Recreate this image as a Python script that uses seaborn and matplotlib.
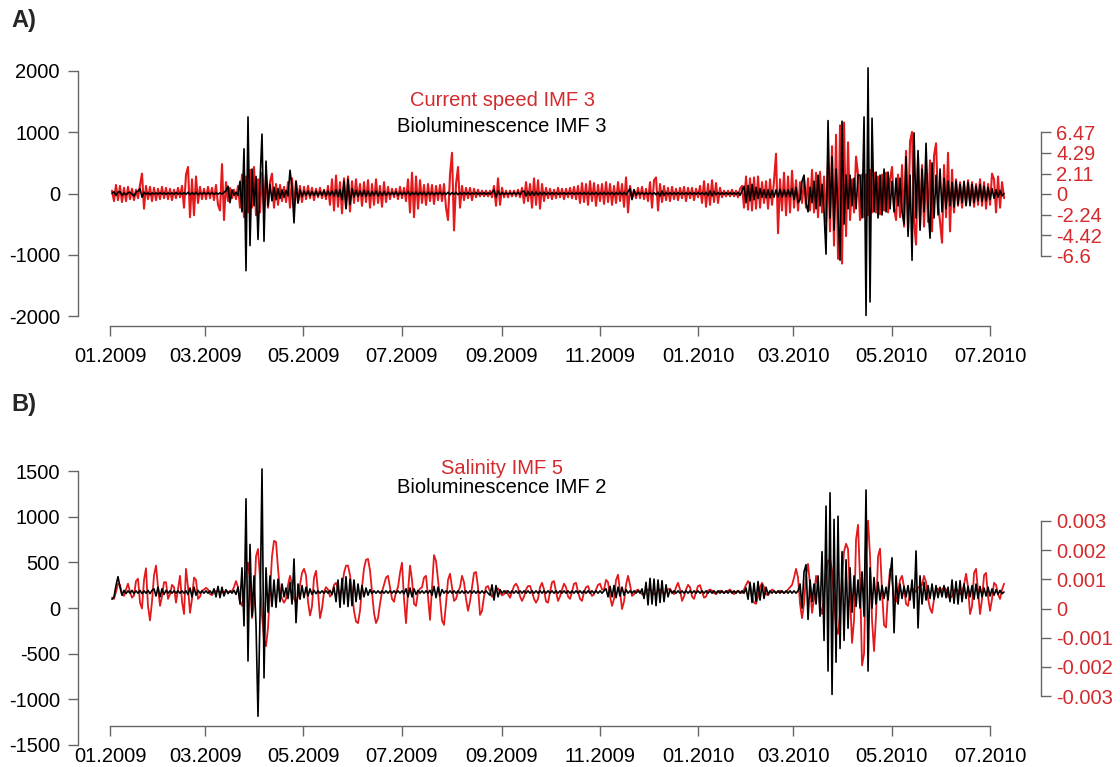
import numpy as np
import pandas as pd
import matplotlib
matplotlib.use("Agg")
import matplotlib.pyplot as plt
import matplotlib.dates as mdates
import seaborn as sns

# ------------------------------------------------------------------ data
# regular sampling of the IMF series (about every 1.24 days)
sample_start = "2009-01-02 05:47"
sample_step = "1787min"

# Panel A – bioluminescence IMF 3 (left axis)
biolum_imf3 = [
    0, 30, -30, 20, 30, -30, 10, -20, 10, 20, -10, -40, 20, 40, 80, -60, 20, -10, 10, -20,
    10, -10, 10, -10, 15, -10, 10, -15, 10, -10, 10, -10, 15, -10, 10, -10, 15, -15, 20, -20,
    15, -15, 20, -20, 10, -10, 15, -10, 10, -10, 15, -15, 10, -10, 10, -10, 20, 40, 120, -150,
    60, -30, 20, -30, 200, -300, 730, -1260, 1250, -850, 400, -200, 280, -750, 200, 970, -780, 530, -200, 150,
    -120, 100, -100, 80, -80, 60, -60, 50, -40, 380, 100, -480, 200, -150, 60, -50, 40, -30, 40, -40,
    30, -30, 40, -40, 30, -30, 50, -40, 40, -30, 40, -40, 60, -50, 60, -100, 200, -250, 230, -180,
    80, -60, 50, -50, 40, -40, 50, -50, 40, -40, 30, -30, 40, -40, 30, -30, 30, -30, 20, -20,
    20, -20, 30, -30, 20, -20, 20, -20, 30, -30, 20, -20, 25, -25, 20, -20, 25, -25, 20, -20,
    20, -20, 15, -15, 20, -20, 15, -15, 20, -20, 15, -15, 20, -20, 15, -15, 15, -15, 15, -15,
    10, -10, 15, -15, 10, -10, 15, -15, 10, -10, 20, 60, -60, 40, -20, 15, -15, 10, -10, 10,
    -10, 15, -15, 20, -20, 30, 40, -40, 30, -30, 30, -30, 25, -25, 20, -20, 20, -20, 15, -15,
    15, -15, 15, -15, 10, -10, 15, -15, 10, -10, 15, -15, 10, -10, 15, -15, 15, -15, 20, -20,
    15, -15, 20, -20, 15, -15, 20, -20, 15, -15, 20, -20, 15, -15, 20, -20, 20, -20, 30, 80,
    -100, 60, -30, 20, -15, 15, -15, 15, -15, 15, -15, 15, -20, 20, -40, 40, -30, 20, -15, 15,
    -15, 15, -15, 15, -15, 15, -15, 15, -15, 15, -15, 15, -15, 15, -15, 15, -20, 20, -30, 40,
    -40, 30, -20, 15, -15, 15, -15, 15, -15, 15, -15, 15, -20, 20, -30, 40, 120, -150, 130, -120,
    150, -100, 100, -80, 80, -60, 60, -70, 60, -70, 50, -60, 60, -60, 70, -60, 60, -50, 60, -50,
    80, -100, 100, -150, -100, 200, 300, -150, -300, 100, -150, 200, -250, 300, -200, 150, -300, -990, 1190, -400,
    600, -600, 400, -300, -1090, 1180, -500, 300, -250, 300, -200, 250, -250, 300, 300, -400, 1250, -1990, 2050, -1770,
    1230, -300, 350, -400, 300, -350, 400, -300, 350, -250, 200, -300, 250, -200, 250, -300, -500, 600, -700, 300,
    -1090, 990, -400, 700, -600, 400, -300, 820, -200, -730, 500, -400, 300, -350, 400, -300, 250, -250, 200, -200,
    180, -220, 200, -180, 150, -150, 200, -200, 180, -200, 150, -150, 120, -120, 150, -130, 120, -120, 100, -100,
    80, -80, 60, -60, 50, -40, 0,
]

# Panel A – current speed IMF 3 (right axis)
current_imf3 = [
    0.3, -0.8, 0.9, -0.7, 0.8, -0.9, 0.6, -0.8, 0.7, -0.6, 0.5, -0.7, 0.4, -0.5, 0.9, 2.1, -1.6, 0.8, -0.6, 0.7,
    -0.8, 0.6, -0.7, 0.5, -0.6, 0.7, -0.5, 0.6, -0.6, 0.5, -0.7, 0.4, -0.5, 0.6, -0.4, 0.8, -1.5, 2.0, 2.8, -2.5,
    1.5, -2.3, 1.8, -1.0, 0.7, -0.6, 0.5, -0.6, 0.7, -0.5, 0.6, -0.7, 0.9, -1.2, -1.8, 3.1, -2.8, 1.2, -0.8, 0.6,
    -0.5, 0.4, -0.6, 0.8, -1.5, 2.0, -2.5, 1.8, -2.0, 2.5, -1.5, 2.8, -2.3, 1.5, -2.0, 2.2, -1.8, 2.0, -1.5, 1.2,
    2.1, -1.5, 1.0, -1.2, 0.9, -0.8, 0.7, -0.9, 1.2, -1.5, 1.6, -1.4, 1.3, -1.0, 0.8, -0.9, 0.7, -0.6, 0.8, -0.5,
    0.6, -0.7, 0.5, -0.4, 0.6, -0.5, 0.4, -0.6, 0.8, -1.2, 1.5, -1.8, 1.9, -1.4, 1.2, -2.1, 1.6, -1.5, 1.8, -1.9,
    1.3, -1.0, 1.5, -0.8, 1.0, -1.3, 1.2, -0.9, 1.4, -1.5, 1.0, -1.2, 1.5, -1.0, 0.8, -1.4, 1.2, -0.9, 0.7, -0.6,
    0.5, -0.4, 0.5, -0.6, 0.7, -0.5, 0.6, -0.8, 1.5, -2.0, 2.2, -2.5, 1.8, -1.6, 1.4, -1.0, 0.9, -1.2, 1.0, -0.8,
    0.9, -1.1, 0.8, -0.7, 0.9, -0.8, 1.0, -1.5, -2.8, 2.0, 4.3, -3.9, 1.0, 2.8, -1.5, 0.8, -0.7, 0.6, -0.5, 0.6,
    -0.7, 0.5, -0.4, 0.4, -0.3, 0.3, -0.3, 0.3, -0.3, 0.3, -0.4, 0.8, -1.3, 1.6, -1.2, 0.6, -0.4, 0.3, -0.4, 0.3,
    -0.3, 0.3, -0.3, 0.4, -0.4, 0.6, -1.0, 1.2, -0.8, 1.0, -1.5, 1.6, -1.2, 1.4, -1.6, 1.0, -0.8, 0.6, -0.5, 0.5,
    -0.6, 0.4, -0.5, 0.6, -0.4, 0.5, -0.6, 0.5, -0.4, 0.6, -0.5, 0.7, -0.6, 0.8, -1.0, 1.1, -0.9, 1.0, -1.2, 1.3,
    -0.8, 1.1, -1.3, 0.9, -0.8, 1.0, -1.1, 1.2, -0.9, 1.0, -1.2, 0.8, -1.0, 1.2, -0.8, 1.0, -1.4, 1.7, -2.0, 0.8,
    -0.5, 0.4, -0.5, 0.6, -0.5, 0.7, -0.6, 0.5, -0.8, 1.2, -1.5, 1.4, 1.7, -1.8, 1.0, -0.9, 0.8, -0.7, 0.6, -0.8,
    0.7, -0.6, 0.5, -0.7, 0.6, -0.5, 0.7, -0.8, 0.6, -0.5, 0.6, -0.7, 0.5, -0.4, 0.8, -1.0, 1.3, -1.4, 1.0, -1.2,
    1.4, -0.9, 1.1, -1.0, 0.6, -0.4, 0.3, -0.3, 0.3, -0.3, 0.4, -0.3, 0.3, -0.4, 0.5, 0.8, -1.5, 1.8, -1.7, 1.6,
    -1.8, 1.7, -1.6, 1.8, -1.5, 1.2, -1.0, 1.3, -1.6, 1.5, -1.2, 1.4, 4.2, -4.2, 1.5, -1.8, 2.2, -2.3, 1.8, -2.0,
    2.4, -1.5, 1.4, -1.8, 1.2, -1.0, 1.4, -1.5, 1.6, -1.8, 2.5, -2.0, 2.2, -2.5, 2.3, -2.0, 1.8, -3.0, 3.5, -4.0,
    5.0, -5.5, 6.2, -6.9, 7.2, -7.4, 7.5, -4.5, 5.4, -2.8, 1.5, -2.0, 3.9, 2.0, -2.8, 2.0, -2.5, 2.0, -2.3, 2.5,
    -2.0, 2.2, -2.0, 1.8, -2.2, 2.0, -1.8, 2.2, -2.0, 1.5, 2.8, -1.5, -2.8, 2.0, -2.5, 3.0, -3.5, 4.5, -4.0, 5.5,
    6.5, -3.0, -5.4, 4.0, -3.5, 3.0, -3.5, 2.5, -3.0, 3.5, -4.0, 4.0, 5.3, -1.0, -3.0, -5.2, 3.0, -2.5, 4.3, -4.0,
    2.5, -2.0, 1.5, -1.3, 1.2, -1.5, 1.0, -1.2, 1.4, -1.0, 1.2, -1.4, 1.0, -1.2, 1.5, -1.3, 1.2, -1.6, 1.0, -1.2,
    2.1, 1.5, -2.0, 1.8, -1.5, 1.2, -0.5,
]

# Panel B – bioluminescence IMF 2 (left axis, read against the printed scale)
biolum_imf2 = [
    96, 122, 246, 343, 228, 140, 193, 157, 188, 162, 193, 157, 188, 162, 193, 157, 188, 162, 193, 157,
    193, 210, 131, 228, 122, 210, 149, 193, 162, 188, 162, 188, 162, 188, 162, 188, 162, 188, 149, 219,
    122, 228, 140, 193, 162, 188, 162, 188, 162, 188, 157, 210, 122, 237, 113, 228, 131, 201, 157, 188,
    162, 193, 149, 228, 43, 440, -196, 1195, -580, 696, -90, 352, -178, -1185, -90, 1522, -765, 440, -46, 352,
    16, 307, 7, 316, 69, 263, 122, 219, 104, 281, 43, 537, -161, 263, 96, 246, 113, 228, 131, 210,
    149, 193, 157, 188, 162, 188, 162, 188, 162, 193, 149, 228, 69, 307, 7, 325, 43, 343, 16, 316,
    25, 307, 69, 263, 96, 246, 122, 219, 140, 201, 157, 188, 162, 188, 162, 188, 162, 188, 162, 188,
    162, 188, 162, 188, 162, 188, 157, 210, 122, 219, 122, 210, 149, 193, 162, 188, 162, 188, 162, 193,
    140, 237, 113, 228, 131, 201, 162, 188, 162, 188, 162, 188, 162, 188, 162, 188, 162, 188, 162, 188,
    162, 188, 162, 188, 162, 188, 162, 188, 162, 140, 254, 87, 246, 122, 201, 162, 188, 162, 188, 162,
    188, 162, 188, 162, 188, 162, 188, 162, 188, 162, 188, 162, 188, 162, 188, 162, 188, 162, 188, 162,
    188, 162, 188, 162, 188, 162, 188, 162, 188, 162, 188, 162, 188, 162, 188, 162, 188, 162, 188, 162,
    188, 162, 188, 162, 188, 162, 188, 210, 122, 237, 122, 246, 113, 228, 131, 228, 140, 201, 162, 188,
    162, 188, 162, 188, 162, 210, 104, 281, 34, 325, 43, 316, 25, 307, 60, 299, 69, 254, 122, 201,
    162, 188, 162, 188, 162, 188, 162, 188, 162, 188, 162, 188, 162, 188, 162, 188, 162, 188, 162, 188,
    162, 188, 162, 188, 162, 188, 162, 188, 162, 188, 162, 188, 162, 188, 162, 188, 162, 219, 96, 281,
    60, 272, 69, 290, 87, 254, 104, 228, 149, 188, 162, 188, 162, 188, 162, 188, 162, 188, 162, 188,
    162, 188, 162, 188, 263, -2, 396, 475, -125, 307, 69, 263, 43, 352, -90, 617, -355, 1115, -690, 1261,
    -946, 970, -593, 1005, -443, 617, -355, 528, -222, 440, -46, 352, 16, 307, -2, 396, -90, 1292, -690, 440,
    -2, 334, 43, 281, 87, 246, 104, 228, 87, 352, 550, -271, 352, 43, 263, 104, 237, 122, 246, 87,
    307, -2, 625, -218, 352, 43, 281, 87, 246, 104, 263, 96, 246, 113, 228, 122, 246, 113, 228, 69,
    307, 51, 290, 43, 299, 69, 263, 104, 237, 122, 246, 96, 263, 104, 237, 122, 219, 131, 228, 131,
    210, 140, 201, 149, 193, 157, 175,
]

# Panel B – salinity IMF 5 (right axis, read against the printed scale), units of 1e-3
salinity_imf5_e3 = [
    0.37, 0.33, 0.57, 0.85, 0.81, 0.49, 0.43, 0.65, 0.85, 0.57, 0.37, 0.45, 0.94, 1.02, 0.20, 0.0, 0.98, 1.38, 0.08, -0.41,
    0.24, 1.14, 1.47, 0.73, 0.09, 0.41, 0.90, 0.90, 0.33, 0.49, 0.81, 0.73, 0.20, 0.65, 1.12, 0.24, -0.19, 1.36, 0.73, -0.15,
    0.33, 1.06, 0.98, 0.33, 0.41, 0.61, 0.65, 0.71, 0.65, 0.49, 0.46, 0.57, 0.60, 0.60, 0.57, 0.54, 0.57, 0.60, 0.57, 0.57,
    0.60, 0.73, 0.94, 0.73, 0.24, 0.09, 0.57, 1.22, 1.57, 0.98, -0.33, 0.16, 1.79, 2.04, 1.06, -0.24, -1.06, -1.29, -0.65, 0.57,
    1.79, 2.32, 2.28, 1.38, 0.57, 0.33, 0.20, 0.33, 0.81, 1.12, 0.81, 0.33, 0.20, 0.41, 0.81, 1.22, 1.36, 1.14, 0.24, -0.24,
    0.08, 1.06, 1.29, 0.57, -0.33, 0.0, 0.57, 0.73, 0.65, 0.41, 0.49, 0.81, 0.88, 0.65, 0.46, 0.73, 1.22, 1.47, 1.47, 1.14,
    0.57, -0.08, -0.45, -0.50, -0.08, 0.73, 1.38, 1.67, 1.70, 1.30, 0.57, -0.16, -0.50, -0.33, 0.16, 0.57, 0.81, 1.06, 1.12, 0.73,
    0.33, 0.23, 0.57, 0.73, 1.22, 1.57, 0.33, -0.50, 0.57, 1.47, 0.98, 0.16, 0.09, 0.57, 0.68, 0.73, 1.06, 1.12, 0.41, -0.39,
    0.73, 1.83, 1.63, 0.98, 0.33, -0.41, -0.56, 0.16, 0.98, 1.19, 0.73, 0.26, 0.33, 0.57, 0.73, 1.12, 0.90, 0.33, -0.08, 0.24,
    0.73, 1.22, 1.25, 0.73, -0.22, -0.08, 0.41, 0.73, 0.77, 0.57, 0.40, 0.49, 0.65, 0.69, 0.57, 0.45, 0.49, 0.61, 0.49, 0.37,
    0.57, 0.77, 0.85, 0.73, 0.41, 0.26, 0.41, 0.65, 0.77, 0.77, 0.57, 0.33, 0.20, 0.33, 0.73, 0.88, 0.65, 0.24, 0.20, 0.57,
    0.90, 0.94, 0.57, 0.26, 0.41, 0.65, 0.85, 0.73, 0.41, 0.33, 0.57, 0.85, 0.88, 0.57, 0.33, 0.26, 0.57, 0.73, 0.77, 0.57,
    0.43, 0.49, 0.65, 0.81, 0.85, 0.65, 0.65, 0.98, 0.90, 0.41, 0.09, 0.33, 0.98, 1.16, 0.57, -0.02, 0.24, 0.81, 1.12, 0.81,
    0.43, 0.49, 0.61, 0.65, 0.57, 0.49, 0.46, 0.57, 0.65, 0.68, 0.57, 0.49, 0.50, 0.61, 0.65, 0.57, 0.49, 0.57, 0.65, 0.68,
    0.57, 0.49, 0.73, 0.88, 0.65, 0.26, 0.41, 0.65, 0.81, 0.73, 0.41, 0.33, 0.57, 0.77, 0.80, 0.57, 0.37, 0.41, 0.61, 0.65,
    0.61, 0.53, 0.49, 0.57, 0.61, 0.57, 0.53, 0.57, 0.61, 0.65, 0.57, 0.49, 0.57, 0.61, 0.57, 0.53, 0.65, 0.81, 0.94, 0.81,
    0.41, 0.20, 0.16, 0.41, 0.73, 0.88, 0.73, 0.49, 0.45, 0.57, 0.65, 0.61, 0.53, 0.57, 0.61, 0.57, 0.53, 0.57, 0.65, 0.73,
    0.81, 1.06, 1.36, 1.06, 0.16, -0.33, 0.16, 1.14, 1.53, 0.81, -0.15, 0.33, 1.12, 0.81, 0.08, -0.19, 0.41, 1.22, 1.63, 1.70,
    1.30, 0.33, -0.65, -0.87, -0.16, 1.06, 1.95, 2.22, 2.04, 0.41, -1.18, -0.41, 2.36, 2.87, 0.98, -1.95, -1.55, 1.79, 3.01, 1.79,
    -0.41, -1.46, -0.24, 1.79, 2.05, 0.57, -0.57, -0.65, 0.57, 1.36, 0.98, 0.33, 0.23, 0.57, 0.98, 1.12, 0.73, 0.16, 0.09, 0.57,
    0.68, 0.65, 0.57, 0.73, 0.73, 0.81, 1.12, 0.90, 0.33, 0.0, -0.15, 0.33, 0.65, 0.68, 0.57, 0.65, 0.73, 0.65, 0.41, 0.37,
    0.41, 0.61, 0.68, 0.61, 0.49, 0.57, 0.81, 1.19, 0.73, -0.19, 0.08, 1.22, 1.36, 0.57, -0.19, 0.33, 1.14, 1.22, 0.41, -0.08,
    0.33, 0.88, 0.81, 0.49, 0.33, 0.65, 0.85,
]
salinity_imf5 = np.asarray(salinity_imf5_e3) * 1e-3

month_ticks = ["2009-01-01", "2009-03-01", "2009-05-01", "2009-07-01", "2009-09-01",
               "2009-11-01", "2010-01-01", "2010-03-01", "2010-05-01", "2010-07-01"]
month_labels = ["01.2009", "03.2009", "05.2009", "07.2009", "09.2009",
                "11.2009", "01.2010", "03.2010", "05.2010", "07.2010"]

left_ticks_a = [-2000, -1000, 0, 1000, 2000]
right_ticks_a = [6.47, 4.29, 2.11, 0, -2.24, -4.42, -6.6]
left_ticks_b = [-1500, -1000, -500, 0, 500, 1000, 1500]
right_ticks_b = [0.003, 0.002, 0.001, 0, -0.001, -0.002, -0.003]

titles_a = ("Current speed IMF 3", "Bioluminescence IMF 3")
titles_b = ("Salinity IMF 5", "Bioluminescence IMF 2")

# ------------------------------------------------------------------ style
sns.set_style("white")
plt.rcParams["font.family"] = ["Liberation Sans", "DejaVu Sans"]
plt.rcParams["axes.unicode_minus"] = False
FS = 14.5
RED_LINE = "#e3191c"
RED_TEXT = "#d42a2d"
AXC = "#666666"

W, H = 1120, 767
fig = plt.figure(figsize=(W / 100, H / 100), dpi=100)

t0 = pd.Timestamp("2009-01-01")
PX_PER_DAY = (990 - 110) / 546.0


def px_to_date(px):
    return t0 + pd.Timedelta(days=(px - 110) / PX_PER_DAY)


def series_dates(n):
    return pd.date_range(sample_start, periods=n, freq=sample_step)


def make_panel(top, bottom, xaxis_px, lzero_px, left_px_per_unit, rzero_px, right_px_per_unit,
               black, red, lticks, rticks, rlabels, titles, title_y, letter, letter_y,
               red_lw, black_lw):
    ax = fig.add_axes([78 / W, 1 - bottom / H, (1041 - 78) / W, (bottom - top) / H])
    axr = ax.twinx()

    sns.lineplot(x=series_dates(len(red)), y=red, ax=axr, color=RED_LINE,
                 linewidth=red_lw, estimator=None, sort=False)
    sns.lineplot(x=series_dates(len(black)), y=black, ax=ax, color="black",
                 linewidth=black_lw, estimator=None, sort=False)
    ax.set_zorder(axr.get_zorder() + 1)
    ax.patch.set_visible(False)

    ax.set_xlim(px_to_date(78), px_to_date(1041))
    ax.set_ylim(-(bottom - lzero_px) / left_px_per_unit, (lzero_px - top) / left_px_per_unit)
    axr.set_ylim(-(bottom - rzero_px) / right_px_per_unit, (rzero_px - top) / right_px_per_unit)

    for a in (ax, axr):
        a.set_xlabel("")
        a.set_ylabel("")
        for s in a.spines.values():
            s.set_visible(False)

    # left axis
    ax.spines["left"].set_visible(True)
    ax.spines["left"].set_bounds(min(lticks), max(lticks))
    ax.set_yticks(lticks)
    ax.set_yticklabels([str(v) for v in lticks])
    # bottom axis
    ax.spines["bottom"].set_visible(True)
    ax.spines["bottom"].set_position(("data", -(xaxis_px - lzero_px) / left_px_per_unit))
    d = [pd.Timestamp(m) for m in month_ticks]
    ax.spines["bottom"].set_bounds(mdates.date2num(d[0]), mdates.date2num(d[-1]))
    ax.set_xticks(d)
    ax.set_xticklabels(month_labels)
    # right axis
    axr.spines["right"].set_visible(True)
    axr.spines["right"].set_bounds(min(rticks), max(rticks))
    axr.set_yticks(rticks)
    axr.set_yticklabels(rlabels)

    for s in (ax.spines["left"], ax.spines["bottom"], axr.spines["right"]):
        s.set_color(AXC)
        s.set_linewidth(1.0)
    ax.tick_params(axis="both", direction="out", length=7, width=1.0, color=AXC,
                   labelsize=FS, labelcolor="black", left=True, bottom=True)
    ax.tick_params(axis="y", pad=6)
    ax.tick_params(axis="x", pad=8)
    axr.tick_params(axis="y", direction="out", length=7, width=1.0, color=AXC,
                    labelsize=FS, labelcolor=RED_TEXT, right=True, pad=4)
    axr.tick_params(axis="x", bottom=False, labelbottom=False)

    fig.text(502 / W, 1 - title_y[0] / H, titles[0], color=RED_TEXT, fontsize=FS,
             ha="center", va="center")
    fig.text(502 / W, 1 - title_y[1] / H, titles[1], color="black", fontsize=FS,
             ha="center", va="center")
    fig.text(11 / W, 1 - letter_y / H, letter, fontsize=17, fontweight="bold",
             ha="left", va="center")
    return ax, axr


make_panel(60, 326, 326, 193.5, 61.25 / 1000, 193.5, 61.25 / 6.47,
           biolum_imf3, current_imf3, left_ticks_a, right_ticks_a,
           [str(v) for v in right_ticks_a], titles_a, (100, 127), "A)", 21,
           1.5, 1.2)

make_panel(455, 752, 726, 608, 91.33 / 1000, 608.5, 29.17 / 0.001,
           biolum_imf2, salinity_imf5, left_ticks_b, right_ticks_b,
           [f"{v:g}" for v in right_ticks_b], titles_b, (468, 487), "B)", 405,
           1.3, 1.2)

fig.savefig("out.png", dpi=100)
